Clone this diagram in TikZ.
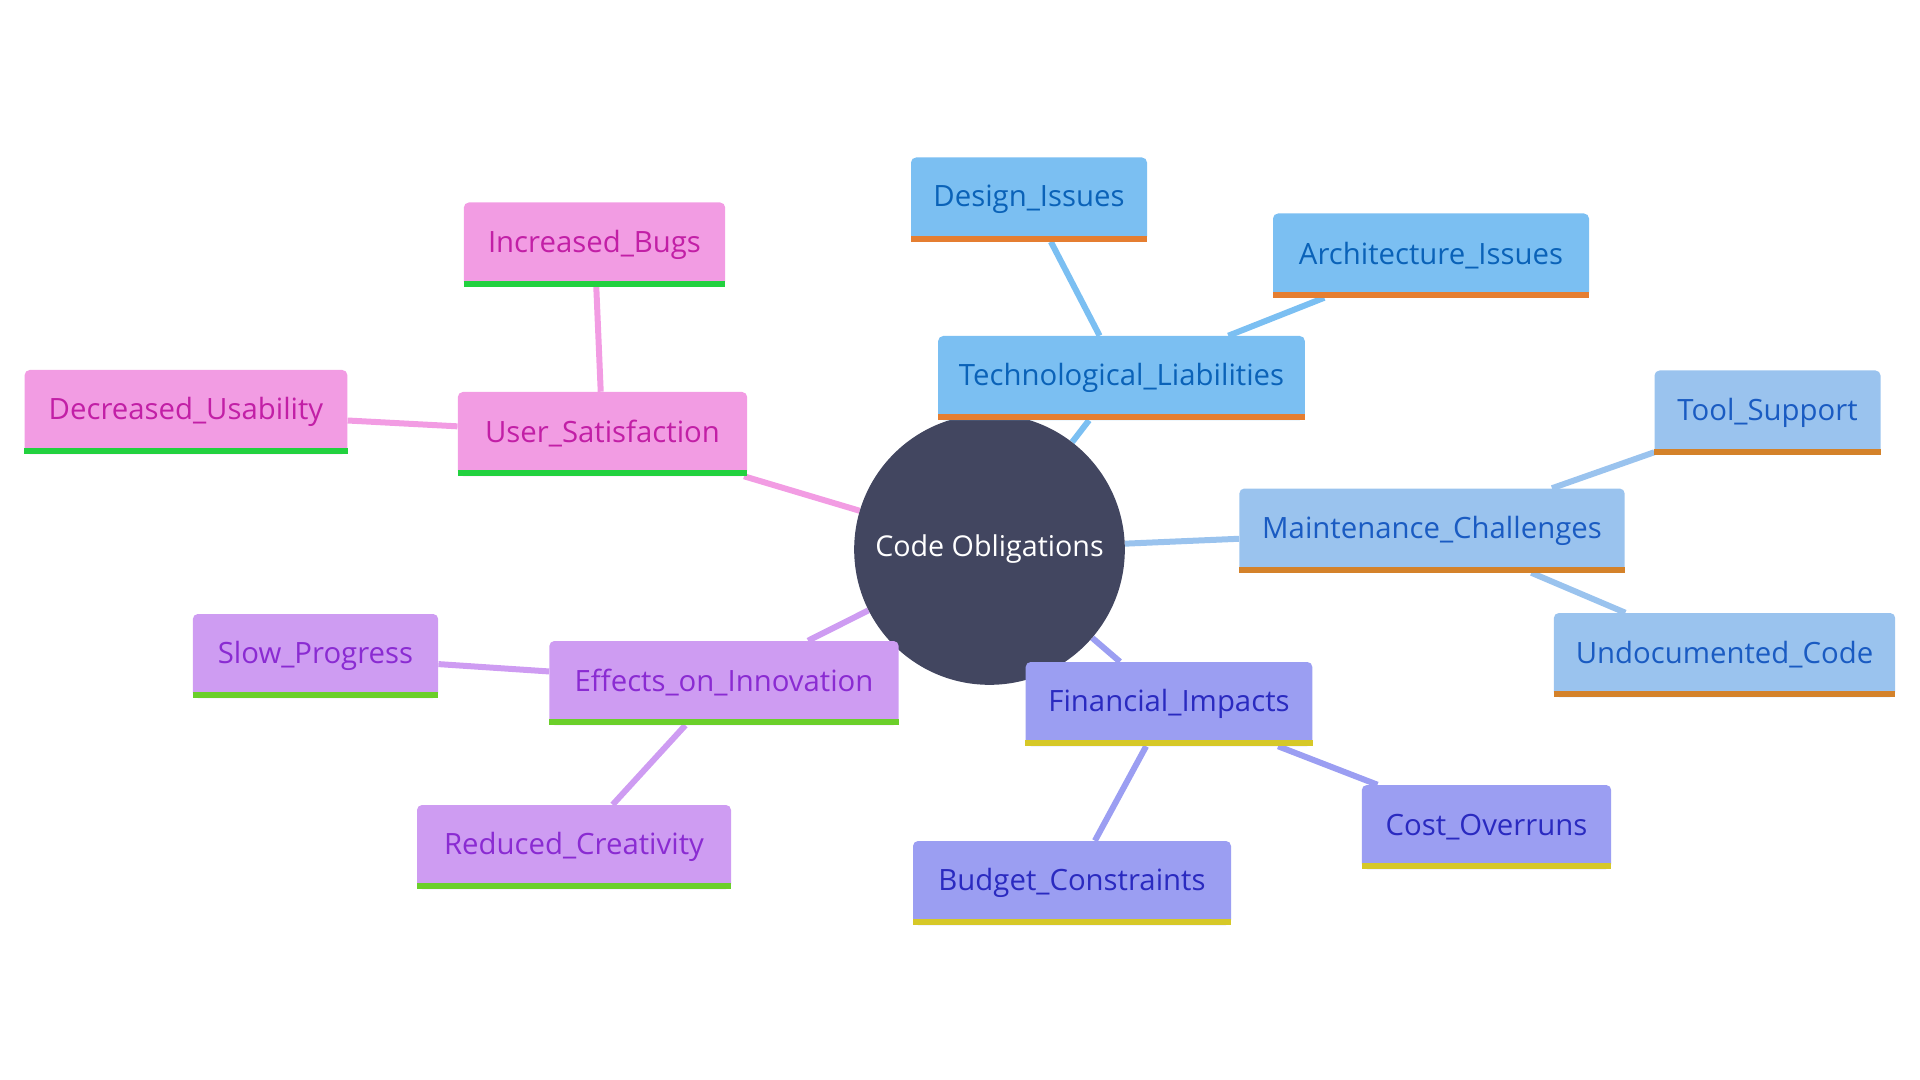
\documentclass[tikz,border=0pt]{standalone}
\usepackage{fontspec}
\setmainfont{Open Sans}
\usetikzlibrary{backgrounds}

\definecolor{rootfill}{HTML}{424660}
\definecolor{liabfill}{HTML}{7BBFF2}
\definecolor{liabtext}{HTML}{0A62B8}
\definecolor{liabbar}{HTML}{E57E31}
\definecolor{maintfill}{HTML}{9AC3EE}
\definecolor{mainttext}{HTML}{1A5BC2}
\definecolor{maintbar}{HTML}{D4822A}
\definecolor{finfill}{HTML}{9B9EF2}
\definecolor{fintext}{HTML}{2A2AC0}
\definecolor{finbar}{HTML}{D6C828}
\definecolor{innovfill}{HTML}{CE9CF2}
\definecolor{innovtext}{HTML}{8A2BD2}
\definecolor{innovbar}{HTML}{6BCF2A}
\definecolor{userfill}{HTML}{F29CE3}
\definecolor{usertext}{HTML}{C21FA6}
\definecolor{userbar}{HTML}{22D13F}

\begin{document}
\begin{tikzpicture}[x=0.75pt, y=-0.75pt,
		topic/.style = {rectangle, rounded corners=3.75pt, minimum height=63pt, inner xsep=6pt, font=\fontsize{22}{26}\selectfont},
		root/.style = {circle, fill=rootfill, text=white, minimum size=203pt, inner sep=0pt, font=\fontsize{21.5}{26}\selectfont},
		liab/.style = {topic, fill=liabfill, text=liabtext},
		maint/.style = {topic, fill=maintfill, text=mainttext},
		fin/.style = {topic, fill=finfill, text=fintext},
		innov/.style = {topic, fill=innovfill, text=innovtext},
		usr/.style = {topic, fill=userfill, text=usertext},
		link/.style = {line width=4.5pt}]
		\useasboundingbox (0,0) rectangle (1920,1080);

		\node[root] (root) at (989.5,549.5) {Code Obligations};

		\node[liab, minimum width=275pt] (liab) at (1121.5,378) {Technological\_Liabilities};
		\node[liab, minimum width=177pt] (design) at (1029,199.5) {Design\_Issues};
		\node[liab, minimum width=237pt] (arch) at (1431,255.5) {Architecture\_Issues};

		\node[maint, minimum width=289pt] (maint) at (1432,530.5) {Maintenance\_Challenges};
		\node[maint, minimum width=169.5pt] (tool) at (1767.5,412.5) {Tool\_Support};
		\node[maint, minimum width=256pt] (undoc) at (1724.5,655) {Undocumented\_Code};

		\node[fin, minimum width=215pt] (fin) at (1169,704) {Financial\_Impacts};
		\node[fin, minimum width=187pt] (cost) at (1486.5,827) {Cost\_Overruns};
		\node[fin, minimum width=238.5pt] (budget) at (1072,883) {Budget\_Constraints};

		\node[innov, minimum width=262pt] (innov) at (724,683) {Effects\_on\_Innovation};
		\node[innov, minimum width=184pt] (slow) at (315.5,656) {Slow\_Progress};
		\node[innov, minimum width=235.5pt] (creat) at (574,847) {Reduced\_Creativity};

		\node[usr, minimum width=217pt] (usr) at (602.5,434) {User\_Satisfaction};
		\node[usr, minimum width=196pt] (bugs) at (594.5,244.5) {Increased\_Bugs};
		\node[usr, minimum width=242pt] (usab) at (186,412) {Decreased\_Usability};

		% coloured strip under each box
		\foreach \n/\c in {liab/liabbar, design/liabbar, arch/liabbar,
				maint/maintbar, tool/maintbar, undoc/maintbar,
				fin/finbar, cost/finbar, budget/finbar,
				innov/innovbar, slow/innovbar, creat/innovbar,
				usr/userbar, bugs/userbar, usab/userbar}
			\fill[\c] (\n.south west) rectangle ([yshift=4.5pt]\n.south east);

		\begin{scope}[on background layer]
			\draw[link, liabfill] (root) -- (liab) (liab) -- (design) (liab) -- (arch);
			\draw[link, maintfill] (root) -- (maint) (maint) -- (tool) (maint) -- (undoc);
			\draw[link, finfill] (root) -- (fin) (fin) -- (cost) (fin) -- (budget);
			\draw[link, innovfill] (root) -- (innov) (innov) -- (slow) (innov) -- (creat);
			\draw[link, userfill] (root) -- (usr) (usr) -- (bugs) (usr) -- (usab);
		\end{scope}
	\end{tikzpicture}
\end{document}
